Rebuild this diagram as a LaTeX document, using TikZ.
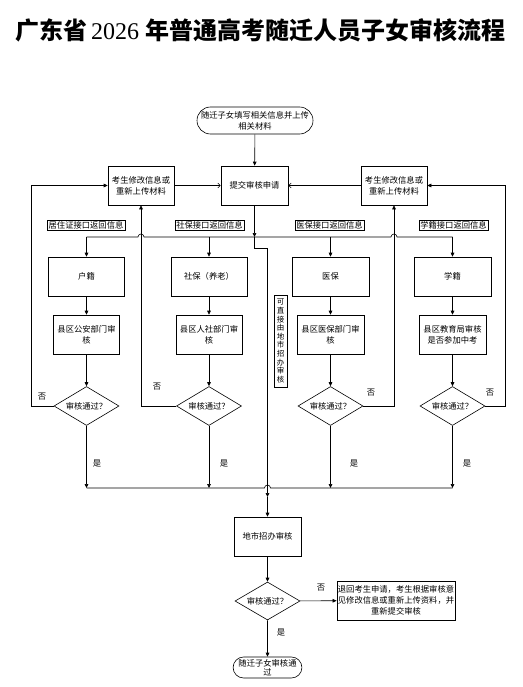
\documentclass[tikz,border=0pt]{standalone}
\usepackage{fontspec}
\setmainfont{Liberation Serif}
\newfontfamily\cjk{Noto Sans CJK SC}
\usetikzlibrary{positioning,shapes.geometric,shapes.misc,arrows.meta,calc}

\tikzset{
  every node/.style={font=\cjk\fontsize{8.3}{11}\selectfont},
  box/.style={draw, rectangle, align=center, inner sep=1pt, minimum height=39pt},
  term/.style={draw, rounded rectangle, align=center, inner sep=1pt},
  tag/.style={draw, rectangle, inner xsep=1.5pt, inner ysep=0pt, minimum height=10pt},
  check/.style={draw, diamond, aspect=1.67, inner sep=0pt, minimum width=65pt, minimum height=39pt},
  arr/.style={-{Triangle[length=4pt,width=3.6pt]}},
  barb/.style={-{Straight Barb[length=2.5pt,width=5pt]}},
}

\begin{document}
\begin{tikzpicture}[x=1pt,y=-1pt,line width=0.6pt]
\useasboundingbox (0,0) rectangle (522,687);

% title
\node[inner sep=0pt] (title) at (260,30) {\fontsize{24}{28}\selectfont\bfseries 广东省\hspace{4pt}{\rmfamily\mdseries 2026}\hspace{6pt}年普通高考随迁人员子女审核流程};

% application and resubmission
\node[term, minimum width=118pt, minimum height=27pt] (start) at (255,120.5) {随迁子女填写相关信息并上传\\相关材料};
\node[box, minimum width=67pt] (submit) at (254.5,185.5) {提交审核申请};
\node[box, minimum width=66pt] (fixL) at (141,185.5) {考生修改信息或\\重新上传材料};
\node[box, minimum width=66pt] (fixR) at (394,185.5) {考生修改信息或\\重新上传材料};

% interface tags
\node[tag] (tagHJ) at (86,225) {居住证接口返回信息};
\node[tag] (tagSB) at (209.5,225) {社保接口返回信息};
\node[tag] (tagYB) at (329.5,225) {医保接口返回信息};
\node[tag] (tagXJ) at (453.5,225) {学籍接口返回信息};

% four county checks
\node[box, minimum width=76pt] (hj) at (86.5,276.5) {户籍};
\node[box, minimum width=76pt] (sb) at (209,276.5) {社保（养老）};
\node[box, minimum width=77pt] (yb) at (330.5,276.5) {医保};
\node[box, minimum width=77pt] (xj) at (452.5,276.5) {学籍};
\node[box, minimum width=66pt] (chkHJ) at (86.5,334.5) {县区公安部门审\\核};
\node[box, minimum width=66pt] (chkSB) at (209,334.5) {县区人社部门审\\核};
\node[box, minimum width=67pt] (chkYB) at (330.5,334.5) {县区医保部门审\\核};
\node[box, minimum width=67pt] (chkXJ) at (452.5,334.5) {县区教育局审核\\是否参加中考};
\node[check] (passHJ) at (86.5,406) {审核通过？};
\node[check] (passSB) at (209,406) {审核通过？};
\node[check] (passYB) at (330.5,406) {审核通过？};
\node[check] (passXJ) at (452.5,406) {审核通过？};
\node[draw, align=center, inner sep=1pt, minimum width=13pt, minimum height=92pt,
  font=\cjk\fontsize{7.5}{8.6}\selectfont] (note) at (280.5,341) {可\\直\\接\\由\\地\\市\\招\\办\\审\\核};

% city check
\node[box, minimum width=67pt] (city) at (267.5,536.5) {地市招办审核};
\node[check, minimum height=38pt] (passCity) at (267.5,601) {审核通过？};
\node[box, minimum width=112pt] (reject) at (396,600.5) {退回考生申请，考生根据审核意\\见修改信息或重新上传资料，并\\重新提交审核};
\node[term, minimum width=67pt, minimum height=21pt, font=\cjk\fontsize{8.3}{9.5}\selectfont] (done) at (267.5,667.5) {随迁子女审核通\\过};

% yes / no labels
\node (noHJ) at (42,397) {否};
\node (noSB) at (157,387) {否};
\node (noYB) at (371,393) {否};
\node (noXJ) at (490,393) {否};
\node (noCity) at (321,588) {否};
\node (yesHJ) at (97,464) {是};
\node (yesSB) at (224,464) {是};
\node (yesYB) at (354,464) {是};
\node (yesXJ) at (467,464) {是};
\node (yesCity) at (281,633) {是};

\coordinate (dist) at (254.5,237);
\coordinate (bus) at (0,488);
\coordinate (hub) at (267.5,497);

% top flow
\draw[arr] (start) -- (submit);
\draw[barb] (fixL) -- (submit);
\draw[barb] (fixR) -- (submit);
\draw[arr] (submit) -- (dist);
\draw (hj.north |- dist) -- ($(fixL.south |- dist)+(-3,0)$) arc[start angle=180,end angle=0,radius=3pt]
  -- ($(fixR.south |- dist)+(-3,0)$) arc[start angle=180,end angle=0,radius=3pt] -- (xj.north |- dist);
\foreach \c in {hj,sb,yb,xj}
  \draw[arr] (\c.north |- dist) -- (\c);

% columns
\foreach \a/\b/\c in {hj/chkHJ/passHJ,sb/chkSB/passSB,yb/chkYB/passYB,xj/chkXJ/passXJ}{
  \draw[arr] (\a) -- (\b);
  \draw[arr] (\b) -- (\c);
  \draw[arr] (\c) -- (\c |- bus);
}

% returns
\draw[arr] (passHJ.west) -- ++(-22,0) |- (fixL.west);
\draw[arr] (passSB.west) -| (fixL.south);
\draw[arr] (passYB.east) -| (fixR.south);
\draw[arr] (passXJ.east) -- ++(20,0) |- (fixR.east);

% collect
\draw (passHJ |- bus) -- ($(city.north |- bus)+(-3,0)$) arc[start angle=180,end angle=0,radius=3pt] -- (passXJ |- bus);
\draw[arr] (dist) -- ++(0,11) -| (hub);
\draw[arr] (hub) -- (city);
\draw[arr] (city) -- (passCity);
\draw[arr] (passCity) -- (reject);
\draw[arr] (passCity) -- (done);

\end{tikzpicture}
\end{document}
